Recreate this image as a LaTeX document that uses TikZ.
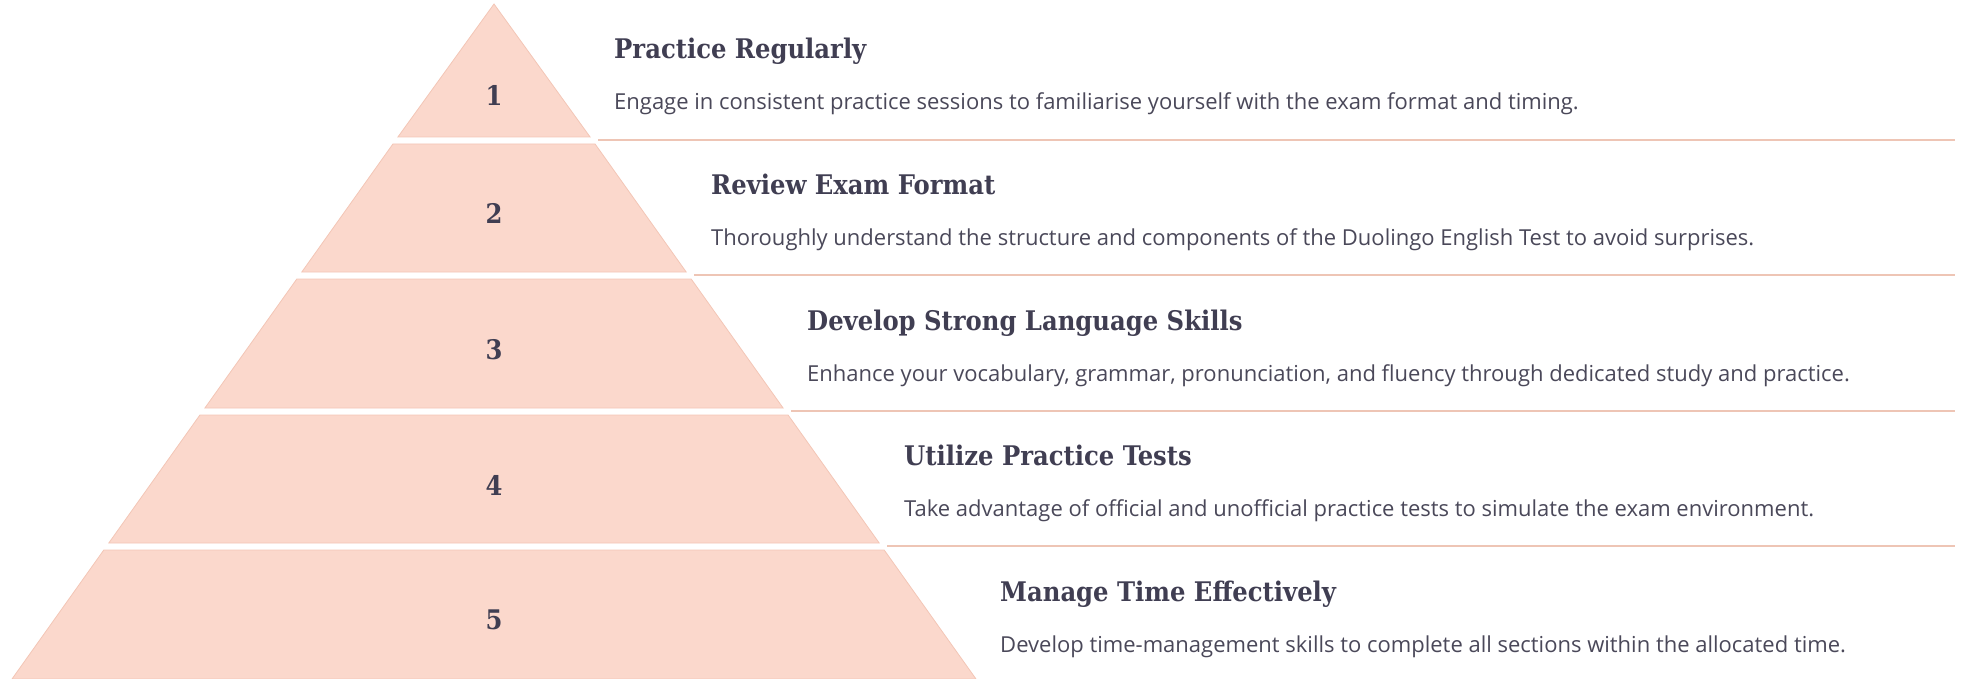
\documentclass[tikz,border=0pt]{standalone}
\usepackage{fontspec}
\setmainfont{Open Sans}
\newfontfamily\headfont{DejaVu Serif Condensed}
\usepackage{tikz}
\definecolor{bandfill}{HTML}{FBD8CC}
\definecolor{bandedge}{HTML}{F3C6B6}
\definecolor{ruleline}{HTML}{EEC5B5}
\definecolor{inkdark}{HTML}{403E52}
\definecolor{inktext}{HTML}{4A4859}

\begin{document}
\begin{tikzpicture}[x=1pt,y=-1pt]
    %
    % `band' is a slice of the pyramid, `num' its number.
    % `head' and `desc' are the texts on the right, `rule' the lines between them.
    \tikzstyle{band} = [fill=bandfill,draw=bandedge,line width=0.8pt,line join=miter]
    \tikzstyle{num} = [text=inkdark,font=\headfont\bfseries\fontsize{27}{31}\selectfont,inner sep=0pt]
    \tikzstyle{head} = [anchor=base west,text=inkdark,font=\headfont\bfseries\fontsize{27}{31}\selectfont,inner sep=0pt]
    \tikzstyle{desc} = [anchor=base west,text=inktext,font=\fontsize{22}{26}\selectfont,inner sep=0pt]
    \tikzstyle{rule} = [draw=ruleline,line width=1.8pt]
    %
    \useasboundingbox (0,0) rectangle (1965,679);
    %
    % Pyramid
    \path[band] (494,4) -- (590.1,137) -- (397.9,137) -- cycle;
    \path[band] (392.9,144) -- (595.1,144) -- (686.2,272) -- (301.8,272) -- cycle;
    \path[band] (296.8,279) -- (691.2,279) -- (783.1,408) -- (204.9,408) -- cycle;
    \path[band] (199.9,415) -- (788.1,415) -- (879.2,543) -- (108.8,543) -- cycle;
    \path[band] (103.8,550) -- (884.2,550) -- (976.0,679) -- (12.0,679) -- cycle;
    %
    % Numbers
    \node[num] (n1) at (494,95) {1};
    \node[num] (n2) at (494,213) {2};
    \node[num] (n3) at (494,350) {3};
    \node[num] (n4) at (494,485) {4};
    \node[num] (n5) at (494,620) {5};
    %
    % Row 1
    \node[head] (h1) at (614,59) {Practice Regularly};
    \node[desc] (d1) at (614,110) {Engage in consistent practice sessions to familiarise yourself with the exam format and timing.};
    %
    % Row 2
    \node[head] (h2) at (711,194.5) {Review Exam Format};
    \node[desc] (d2) at (711,245.5) {Thoroughly understand the structure and components of the Duolingo English Test to avoid surprises.};
    %
    % Row 3
    \node[head] (h3) at (807,330) {Develop Strong Language Skills};
    \node[desc] (d3) at (807,381) {Enhance your vocabulary, grammar, pronunciation, and fluency through dedicated study and practice.};
    %
    % Row 4
    \node[head] (h4) at (904,465.5) {Utilize Practice Tests};
    \node[desc] (d4) at (904,516.5) {Take advantage of official and unofficial practice tests to simulate the exam environment.};
    %
    % Row 5
    \node[head] (h5) at (1000,601) {Manage Time Effectively};
    \node[desc] (d5) at (1000,652) {Develop time-management skills to complete all sections within the allocated time.};
    %
    % Rules between rows
    \coordinate (r1a) at (598,140);  \coordinate (r1b) at (1955,140);
    \coordinate (r2a) at (694,275);  \coordinate (r2b) at (1955,275);
    \coordinate (r3a) at (791,411);  \coordinate (r3b) at (1955,411);
    \coordinate (r4a) at (887,546);  \coordinate (r4b) at (1955,546);
    \draw[rule] (r1a) -- (r1b);
    \draw[rule] (r2a) -- (r2b);
    \draw[rule] (r3a) -- (r3b);
    \draw[rule] (r4a) -- (r4b);
    %
\end{tikzpicture}
\end{document}
